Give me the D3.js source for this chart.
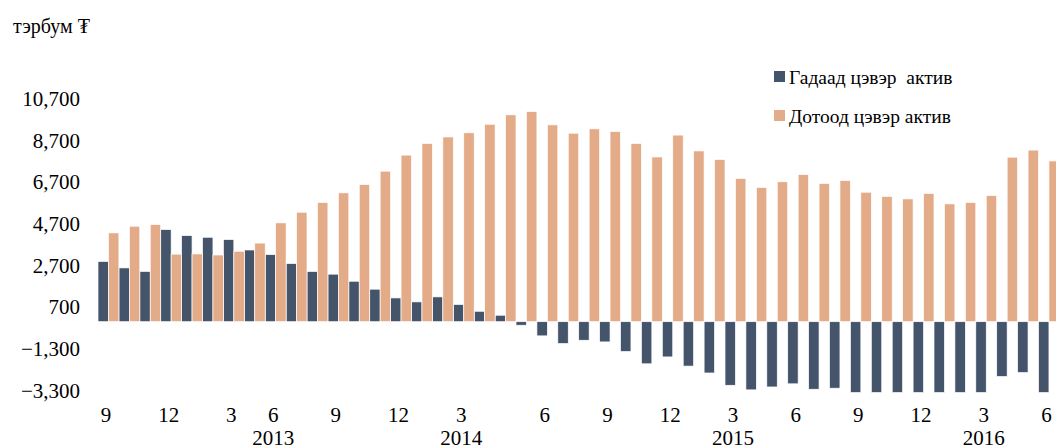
<!DOCTYPE html>
<html>
<head>
<meta charset="utf-8">
<script src="https://cdn.jsdelivr.net/npm/d3@7"></script>
<style>
  html, body { margin: 0; padding: 0; background: #fff; }
  svg { display: block; }
  text { font-family: "Liberation Serif", "DejaVu Serif", serif; fill: #000; }
</style>
</head>
<body>
<svg id="chart" width="1056" height="448"></svg>
<script>
// ---- Data ----
const monthLabels = ["9","","","12","","","3","","6","","","9","","","12","","","3","","","","6","","","9","","","12","","","3","","","6","","","9","","","12","","","3","","","6"];
const yearLabels  = ["","","","","","","","","2013","","","","","","","","","2014","","","","","","","","","","","","","2015","","","","","","","","","","","","2016","","",""];
const foreignNet  = [2890,2580,2410,4420,4130,4050,3940,3440,3220,2790,2410,2280,1940,1560,1140,950,1190,825,500,310,-170,-680,-1050,-890,-970,-1430,-2020,-1690,-2130,-2460,-3050,-3270,-3130,-2980,-3240,-3190,-3400,-3400,-3400,-3400,-3400,-3400,-3400,-2630,-2440,-3400];
const domesticNet = [4260,4580,4660,3240,3250,3200,3380,3770,4740,5250,5720,6180,6580,7220,7990,8550,8860,9060,9470,9920,10080,9440,9040,9250,9120,8550,7900,8950,8190,7780,6870,6440,6710,7060,6630,6770,6210,6010,5890,6150,5650,5720,6050,7890,8230,7710];
const seriesNames = ["Гадаад цэвэр  актив", "Дотоод цэвэр актив"];
const seriesColors = ["#44546A", "#E3AB87"];
const yTicks = [-3300,-1300,700,2700,4700,6700,8700,10700];
const unitLabel = "тэрбум ₮";

const FONT = "'Liberation Serif', 'DejaVu Serif', serif";

// ---- Scales ----
const svg = d3.select("#chart");
const idx = d3.range(foreignNet.length);
const x = d3.scaleBand().domain(idx).range([98, 98 + 20.9 * idx.length]).padding(0);
const xs = d3.scaleBand().domain([0, 1]).range([0, x.bandwidth()]).padding(0);
const y = d3.scaleLinear().domain([-3300, 10700]).range([390.5, 98.6]);

// ---- Bars ----
const series = [foreignNet, domesticNet];
series.forEach((vals, si) => {
  svg.append("g").selectAll("rect").data(vals).join("rect")
    .attr("x", (d, i) => x(i) + xs(si))
    .attr("width", xs.bandwidth())
    .attr("y", d => y(Math.max(0, d)))
    .attr("height", d => Math.abs(y(d) - y(0)))
    .attr("fill", seriesColors[si])
    .attr("stroke", "#ffffff")
    .attr("stroke-width", 0.7);
});

// ---- Y axis ----
const yAxis = svg.append("g").attr("transform", "translate(83,0)")
  .call(d3.axisLeft(y).tickValues(yTicks).tickFormat(d3.format(",")).tickSize(0).tickPadding(3));
yAxis.attr("font-family", null).attr("font-size", null);
yAxis.select(".domain").remove();
yAxis.selectAll("text").style("font-size", "21px").style("font-family", FONT);

// ---- X axis: months ----
const xm = svg.append("g").attr("transform", "translate(-2.5,407)")
  .call(d3.axisBottom(x).tickValues(idx.filter(i => monthLabels[i] !== "")).tickFormat(i => monthLabels[i]).tickSize(0).tickPadding(0));
xm.attr("font-family", null).attr("font-size", null);
xm.select(".domain").remove();
xm.selectAll("text").style("font-size", "21px").style("font-family", FONT);

// ---- X axis: years ----
const xy = svg.append("g").attr("transform", "translate(-2.5,430)")
  .call(d3.axisBottom(x).tickValues(idx.filter(i => yearLabels[i] !== "")).tickFormat(i => yearLabels[i]).tickSize(0).tickPadding(0));
xy.attr("font-family", null).attr("font-size", null);
xy.select(".domain").remove();
xy.selectAll("text").style("font-size", "21px").style("font-family", FONT);

// ---- Unit label ----
svg.append("text").attr("x", 13).attr("y", 33).style("font-size", "20px").style("font-family", FONT).text(unitLabel);

// ---- Legend ----
const legend = svg.append("g");
const legendY = [71, 110];
seriesNames.forEach((name, i) => {
  legend.append("rect").attr("x", 774).attr("y", legendY[i]).attr("width", 11).attr("height", 11).attr("fill", seriesColors[i]);
  legend.append("text").attr("x", 789).attr("y", legendY[i] + 12.5)
    .style("font-size", "19.5px").style("font-family", FONT).style("white-space", "pre").text(name);
});
</script>
</body>
</html>
